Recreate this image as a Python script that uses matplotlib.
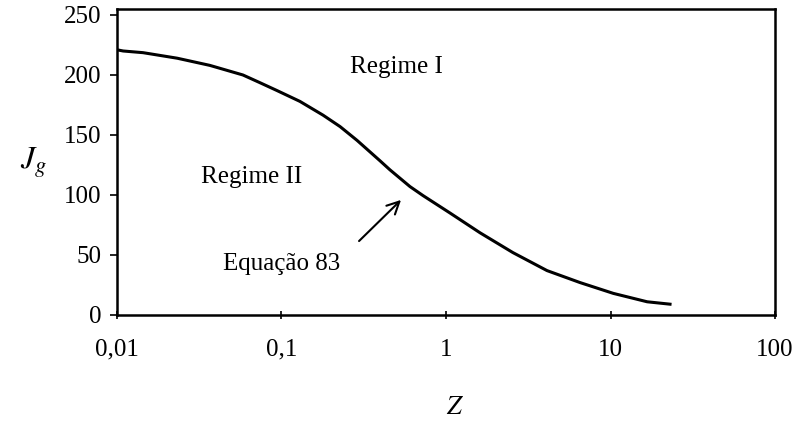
import matplotlib.pyplot as plt

plt.rcParams['font.family'] = ['Liberation Serif', 'DejaVu Serif']
plt.rcParams['mathtext.fontset'] = 'stix'

# Curva Jg x Z (Equação 83)
z = [0.01, 0.0109, 0.0144, 0.0232, 0.0367, 0.0583, 0.0739, 0.094, 0.1294, 0.179, 0.227,
     0.288, 0.397, 0.456, 0.604, 0.725, 1.057, 1.61, 2.55, 4.11, 6.53, 10.4, 16.7, 23.0]
jg = [221, 220, 218.6, 214, 208, 200, 193.6, 187, 178, 166.5, 157,
      145.5, 128.5, 121, 107, 99.5, 85, 68.5, 52, 37, 27, 18, 11, 9]

xticks = [0.01, 0.1, 1, 10, 100]
xticklabels = ['0,01', '0,1', '1', '10', '100']
yticks = [0, 50, 100, 150, 200, 250]

fig = plt.figure(figsize=(7.99, 4.22), dpi=100)
ax = fig.add_axes([0.1464, 0.2536, 0.8236, 0.7251])

ax.plot(z, jg, color='black', lw=2.2)

ax.set_xscale('log')
ax.set_xlim(0.01, 100)
ax.set_ylim(0, 255)
ax.set_xticks(xticks)
ax.set_xticklabels(xticklabels)
ax.minorticks_off()
ax.set_yticks(yticks)
ax.tick_params(axis='x', direction='inout', length=6, width=1.2, labelsize=18, pad=14)
ax.tick_params(axis='y', direction='out', length=5, width=1.2, labelsize=18, pad=6)
for s in ax.spines.values():
    s.set_linewidth(1.8)

ax.text(0.497, 207, 'Regime I', fontsize=18, ha='center', va='center')
ax.text(0.0662, 115, 'Regime II', fontsize=18, ha='center', va='center')
ax.text(0.1, 37.5, 'Equação 83', fontsize=18, ha='center', va='baseline')
ax.annotate('', xy=(0.548, 97.5), xytext=(0.288, 60),
            arrowprops=dict(arrowstyle='->', color='black', lw=1.5, mutation_scale=22))

fig.text(0.042, 0.615, r'$J_g$', fontsize=23, ha='center', va='center')
fig.text(0.57, 0.033, r'$Z$', fontsize=19, ha='center', va='center')

fig.savefig('out.png', dpi=100)
